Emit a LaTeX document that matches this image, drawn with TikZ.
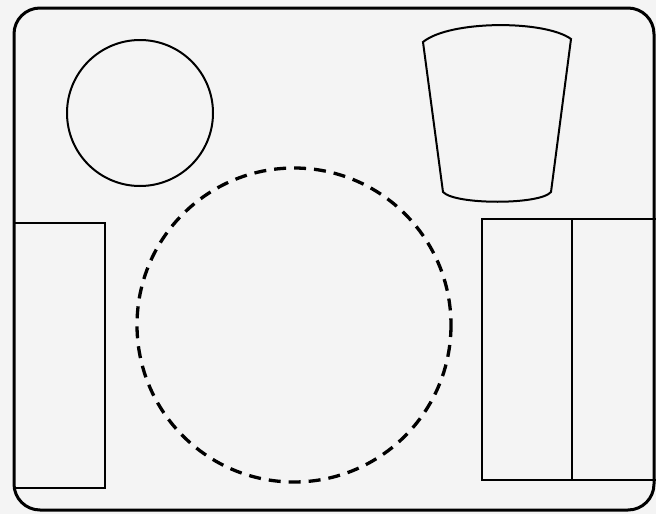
\documentclass[tikz,border=0pt]{standalone}
\usepackage{tikz}
\usetikzlibrary{calc}
\definecolor{paper}{RGB}{244,244,244}
\tikzset{
  tray/.style={draw=black,line width=3pt,rounded corners=26pt},
  item/.style={draw=black,line width=2pt},
  plate/.style={draw=black,line width=3.3pt,dash pattern=on 12pt off 8pt},
}
\begin{document}
\begin{tikzpicture}[x=1pt,y=-1pt]
  % page and background
  \useasboundingbox[fill=paper] (0,0) rectangle (656,514);
  % tray outline
  \draw[tray] (14,8) rectangle (654,510);
  % bread plate, top left
  \draw[item] (140,113) circle[radius=73];
  % cup, top right
  \draw[item] (423,42) -- (443,192)
    .. controls (455,205) and (540,205) .. (551,192)
    -- (571,39)
    .. controls (545,20) and (450,20) .. (423,42) -- cycle;
  % dinner plate, centre
  \draw[plate] (294,325) circle[radius=157];
  % napkin, left
  \draw[item] (14,223) rectangle (105,488);
  % cutlery places, right
  \draw[item] (482,219) rectangle (572,480);
  \draw[item] (572,219) rectangle (662,480);
\end{tikzpicture}
\end{document}
